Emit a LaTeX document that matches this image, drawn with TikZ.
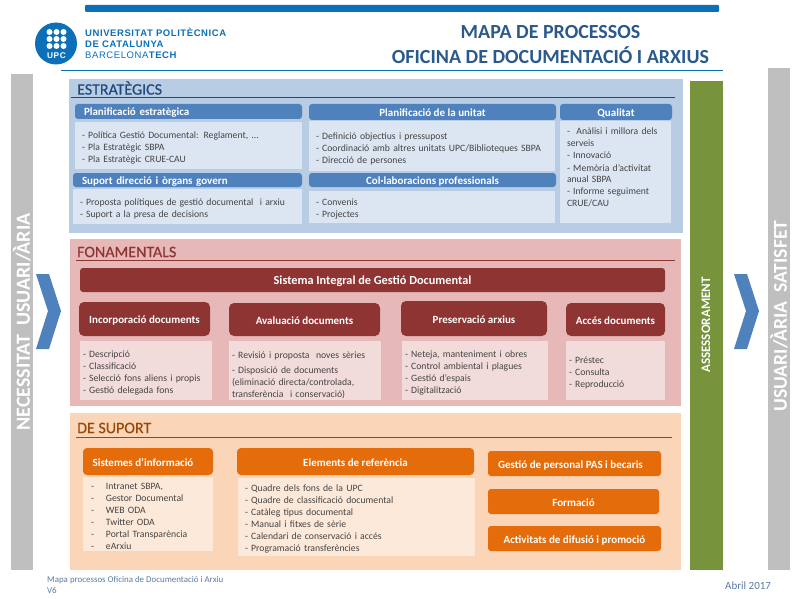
\documentclass[tikz,border=0pt]{standalone}
\usepackage{fontspec}
\setmainfont{Carlito}
\newfontfamily\logofont[LetterSpace=6]{Liberation Sans}
\newfontfamily\heavyfont[FakeBold=0.4]{Carlito}
\usepackage{tikz}
\usetikzlibrary{positioning}

\definecolor{upcblue}{HTML}{0B70B8}
\definecolor{titleblue}{HTML}{2A5A8C}
\definecolor{panelblue}{HTML}{B8CCE4}
\definecolor{headblue}{HTML}{4F81BD}
\definecolor{itemblue}{HTML}{DCE6F2}
\definecolor{darkblue}{HTML}{1F497D}
\definecolor{panelred}{HTML}{E6B9B8}
\definecolor{headred}{HTML}{8E3433}
\definecolor{itemred}{HTML}{F2DCDB}
\definecolor{panelorange}{HTML}{FAD5B8}
\definecolor{headorange}{HTML}{E46C0A}
\definecolor{itemorange}{HTML}{FDE9D9}
\definecolor{darkorange}{HTML}{984807}
\definecolor{sidegrey}{HTML}{BFBFBF}
\definecolor{sidegreen}{HTML}{77933C}
\definecolor{bodytext}{HTML}{444444}
\definecolor{foottext}{HTML}{5B7AA0}

\tikzset{
  box/.style={anchor=north west, inner sep=0pt, outer sep=0pt},
  headbox/.style={box, rounded corners=3pt, align=center, text=white,
    text height=10pt, text depth=1pt, font=\fontsize{11}{13}\selectfont\bfseries},
  itembox/.style={box, align=left, text=bodytext, inner xsep=7pt,
    execute at begin node=\rule{0pt}{11pt},
    font=\fontsize{9.7}{12}\selectfont},
  sidetext/.style={rotate=90, text=white, font=\fontsize{19.6}{21}\selectfont\bfseries},
  paneltitle/.style={anchor=west, inner sep=0pt, font=\fontsize{16}{18}\selectfont\heavyfont},
  logotext/.style={anchor=west, inner sep=0pt, text=upcblue},
  maintitle/.style={inner sep=0pt, text=titleblue, font=\fontsize{20}{20}\selectfont\bfseries},
  chevron/.style={fill=headblue, draw=none},
  ruleline/.style={line width=1pt}
}

\begin{document}
\begin{tikzpicture}[x=1pt, y=-1pt]
    \useasboundingbox (0,0) rectangle (800,599);
    % header
    \fill[upcblue, rounded corners=1pt] (85,5) rectangle (719,12);
    \node[circle, fill=upcblue, minimum size=42pt, inner sep=0pt] (logo) at (56,43.5) {};
    \foreach \i in {49.5,56.5,63.5}
      \foreach \j in {32,39,46}
        \fill[white] (\i,\j) circle (3pt);
    \node[inner sep=0pt, text=white, font=\logofont\fontsize{8.3}{9}\selectfont\bfseries] (logoupc) at (56.5,56) {UPC};
    \node[logotext, font=\logofont\fontsize{9.5}{10}\selectfont\bfseries] (univ) at (85,32.5) {UNIVERSITAT POLITÈCNICA};
    \node[logotext, font=\logofont\fontsize{9.5}{10}\selectfont\bfseries] (cat) at (85,44) {DE CATALUNYA};
    \node[logotext, font=\logofont\fontsize{9.5}{10}\selectfont] (bcn) at (85,55.5) {BARCELONA\textbf{TECH}};
    \node[maintitle] (title1) at (550.5,32) {MAPA DE PROCESSOS};
    \node[maintitle] (title2) at (550.5,55.5) {OFICINA DE DOCUMENTACIÓ I ARXIUS};
    \draw[upcblue, line width=0.8pt] (61,70) -- (723,70);

    % side bars
    \fill[sidegrey] (11,74) rectangle (33,570);
    \fill[sidegrey] (768,68) rectangle (790,570);
    \fill[sidegreen] (690,81) rectangle (723,570);
    \node[sidetext, font=\fontsize{20}{21}\selectfont\bfseries] (need) at (22,322) {NECESSITAT\ \ USUARI/ÀRIA};
    \node[sidetext] (satisf) at (779,316) {USUARI/ÀRIA\ \ SATISFET};
    \node[rotate=90, text=white, font=\fontsize{13}{15}\selectfont\bfseries] (assess) at (706,325) {ASSESSORAMENT};
    \fill[chevron] (36,274) -- (49,274) -- (61,311) -- (49,349) -- (36,349) -- (48,311) -- cycle;
    \fill[chevron] (734,274) -- (747,274) -- (759,311) -- (747,349) -- (734,349) -- (746,311) -- cycle;

    % estrategics
    \fill[panelblue] (69,79) rectangle (683,233);
    \node[paneltitle, text=darkblue] (estr) at (77,88) {ESTRATÈGICS};
    \draw[darkblue, ruleline] (71,98) -- (675,98);
    \node[headbox, fill=headblue, align=left, inner xsep=9pt, minimum width=227pt, minimum height=15pt, text width=209pt] (planest) at (75,104) {Planificació estratègica};
    \node[itembox, fill=itemblue, minimum width=227pt, minimum height=47pt, text width=213pt] (planestbody) at (75,122) {- Política Gestió Documental: Reglament, ...\\- Pla Estratègic SBPA\\- Pla Estratègic CRUE-CAU};
    \node[headbox, fill=headblue, align=left, inner xsep=9pt, minimum width=229pt, minimum height=14pt, text width=211pt] (suport) at (73,173) {Suport direcció i òrgans govern};
    \node[itembox, fill=itemblue, minimum width=229pt, minimum height=35pt, text width=215pt] (suportbody) at (73,189) {- Proposta polítiques de gestió documental\ \ i arxiu\\- Suport a la presa de decisions};
    \node[headbox, fill=headblue, minimum width=247pt, minimum height=16pt] (planuni) at (309,104) {Planificació de la unitat};
    \node[itembox, fill=itemblue, execute at begin node=\rule{0pt}{13pt}, minimum width=246pt, minimum height=50pt, text width=232pt] (planunibody) at (309,121) {- Definició objectius i pressupost\\- Coordinació amb altres unitats UPC/Biblioteques SBPA\\- Direcció de persones};
    \node[headbox, fill=headblue, minimum width=247pt, minimum height=14pt] (colab) at (309,173) {Col·laboracions professionals};
    \node[itembox, fill=itemblue, minimum width=246pt, minimum height=32pt, text width=232pt] (colabbody) at (309,191) {- Convenis\\- Projectes};
    \node[headbox, fill=headblue, minimum width=112pt, minimum height=16pt] (qual) at (560,104) {Qualitat};
    \node[itembox, fill=itemblue, minimum width=111pt, minimum height=102pt, text width=97pt] (qualbody) at (560,121) {-\ \ Anàlisi i millora dels serveis\\- Innovació\\- Memòria d’activitat anual SBPA\\- Informe seguiment CRUE/CAU\\[1pt]\ };

    % fonamentals
    \fill[panelred] (70,239) rectangle (681,406);
    \node[paneltitle, text=headred] (fona) at (77,252) {FONAMENTALS};
    \draw[headred, ruleline] (76,260) -- (675,260);
    \node[headbox, fill=headred, font=\fontsize{12.3}{14}\selectfont\bfseries, minimum width=585pt, minimum height=24pt] (sistema) at (80,268) {Sistema Integral de Gestió Documental};
    \node[headbox, fill=headred, rounded corners=5pt, minimum width=131pt, minimum height=34pt] (incorp) at (79,302) {Incorporació documents};
    \node[headbox, fill=headred, rounded corners=5pt, minimum width=151pt, minimum height=33pt] (aval) at (229,303) {Avaluació documents};
    \node[headbox, fill=headred, rounded corners=5pt, minimum width=146pt, minimum height=35pt] (pres) at (401,301) {Preservació arxius};
    \node[headbox, fill=headred, rounded corners=5pt, minimum width=99pt, minimum height=33pt] (acces) at (566,303) {Accés documents};
    \node[itembox, fill=itemred, inner xsep=3pt, minimum width=132pt, minimum height=59pt, text width=126pt] (incorpbody) at (80,341) {- Descripció\\- Classificació\\- Selecció fons aliens i propis\\- Gestió delegada fons};
    \node[itembox, fill=itemred, inner xsep=3pt, execute at begin node=\rule{0pt}{17pt}, minimum width=152pt, minimum height=59pt, text width=146pt] (avalbody) at (229,341) {- Revisió i proposta\ \ noves sèries\\[3pt]- Disposició de documents\\(eliminació directa/controlada,\\transferència\ \ i conservació)};
    \node[itembox, fill=itemred, inner xsep=3pt, minimum width=146pt, minimum height=59pt, text width=140pt] (presbody) at (402,341) {- Neteja, manteniment i obres\\- Control ambiental i plagues\\- Gestió d’espais\\- Digitalització};
    \node[itembox, fill=itemred, inner xsep=3pt, minimum width=99pt, minimum height=59pt, text width=93pt] (accesbody) at (566,341) {- Préstec\\- Consulta\\- Reproducció};

    % de suport
    \fill[panelorange] (70,413) rectangle (681,570);
    \node[paneltitle, text=darkorange] (sup) at (77,428) {DE SUPORT};
    \draw[darkorange, ruleline] (76,437) -- (672,437);
    \node[headbox, fill=headorange, rounded corners=4pt, minimum width=130pt, minimum height=27pt] (sist) at (83,448) {Sistemes d’informació\hspace*{10pt}};
    \node[headbox, fill=headorange, rounded corners=4pt, minimum width=237pt, minimum height=27pt] (elem) at (237,448) {Elements de referència};
    \node[itembox, fill=itemorange, inner xsep=8pt, minimum width=130pt, minimum height=74pt, text width=114pt] (sistbody) at (83,477) {\makebox[15pt][l]{-}Intranet SBPA,\\\makebox[15pt][l]{-}Gestor Documental\\\makebox[15pt][l]{-}WEB ODA\\\makebox[15pt][l]{-}Twitter ODA\\\makebox[15pt][l]{-}Portal Transparència\\\makebox[15pt][l]{-}eArxiu};
    \node[itembox, fill=itemorange, minimum width=237pt, minimum height=78pt, text width=223pt] (elembody) at (238,478) {- Quadre dels fons de la UPC\\- Quadre de classificació documental\\- Catàleg tipus documental\\- Manual i fitxes de sèrie\\- Calendari de conservació i accés\\- Programació transferències};
    \node[headbox, fill=headorange, minimum width=173pt, minimum height=25pt] (gestio) at (488,451) {Gestió de personal PAS i becaris\hspace*{8pt}};
    \node[headbox, fill=headorange, minimum width=171pt, minimum height=25pt] (forma) at (488,489) {Formació};
    \node[headbox, fill=headorange, minimum width=173pt, minimum height=25pt] (activ) at (488,526) {Activitats de difusió i promoció};

    % footer
    \node[anchor=north west, inner sep=0pt, align=left, text=foottext, font=\fontsize{8.9}{11}\selectfont] (foot) at (47,576) {Mapa processos Oficina de Documentació i Arxiu\\V6};
    \node[anchor=west, inner sep=0pt, text=foottext, font=\fontsize{11}{13}\selectfont] (date) at (725,586) {Abril 2017};
\end{tikzpicture}
\end{document}
